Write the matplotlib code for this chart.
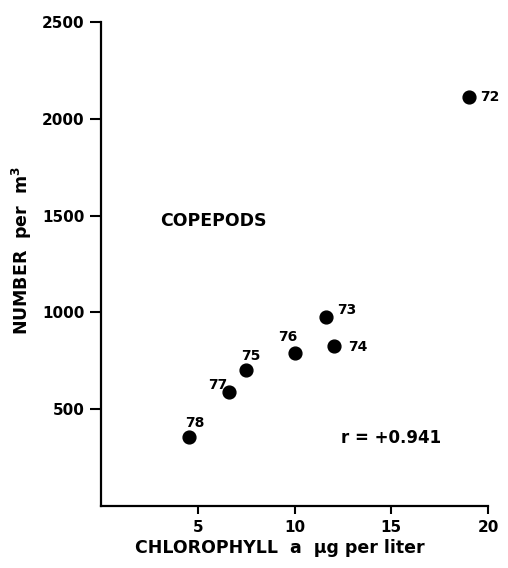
import matplotlib
matplotlib.use("Agg")
import matplotlib.pyplot as plt

# Data
years = ["72", "73", "74", "75", "76", "77", "78"]
chlorophyll = [19.0, 11.6, 12.05, 7.5, 10.0, 6.6, 4.55]
number = [2115, 978, 828, 702, 792, 587, 357]
# label offsets in points (dx, dy)
label_offsets = {"72": (8, 0), "73": (8, 5), "74": (10, -1), "75": (-4, 10),
                 "76": (-12, 11), "77": (-15, 5), "78": (-3, 10)}

x_ticks = [5, 10, 15, 20]
y_ticks = [500, 1000, 1500, 2000, 2500]

plt.rcParams['font.family'] = ['DejaVu Sans']
fig = plt.figure(figsize=(5.08, 5.68), dpi=100)
ax = fig.add_axes([101.3/508, 1-505.7/568, (488-101.3)/508, (505.7-22.4)/568])

ax.scatter(chlorophyll, number, s=85, color='black', zorder=3, clip_on=False)
for yr, xv, yv in zip(years, chlorophyll, number):
    dx, dy = label_offsets[yr]
    ax.annotate(yr, (xv, yv), xytext=(dx, dy), textcoords='offset points',
                fontsize=10, fontweight='bold', ha='left', va='center')

ax.set_xlim(0, 20)
ax.set_ylim(0, 2500)
ax.set_xticks(x_ticks)
ax.set_yticks(y_ticks)
ax.set_xticklabels([str(t) for t in x_ticks], fontsize=11, fontweight='bold')
ax.set_yticklabels([str(t) for t in y_ticks], fontsize=11, fontweight='bold')
ax.tick_params(axis='x', direction='out', length=6, width=1.5, pad=4)
ax.tick_params(axis='y', direction='out', length=8, width=1.5, pad=4)

for s in ['top', 'right']:
    ax.spines[s].set_visible(False)
for s in ['left', 'bottom']:
    ax.spines[s].set_linewidth(1.6)

ax.text(0.152, 0.59, "COPEPODS", transform=ax.transAxes, fontsize=12.5,
        fontweight='bold', ha='left', va='center')
ax.text(12.4, 350, "r = +0.941", fontsize=12, fontweight='bold',
        ha='left', va='center')

fig.text(280/508, 1-548/568, "CHLOROPHYLL  a  \u00b5g per liter",
         fontsize=12.5, fontweight='bold', ha='center', va='center')
fig.text(22/508, 1-250/568, r"NUMBER  per  m$^{\mathbf{3}}$", rotation=90,
         fontsize=12.5, fontweight='bold', ha='center', va='center')

fig.savefig("out.png", dpi=100)
